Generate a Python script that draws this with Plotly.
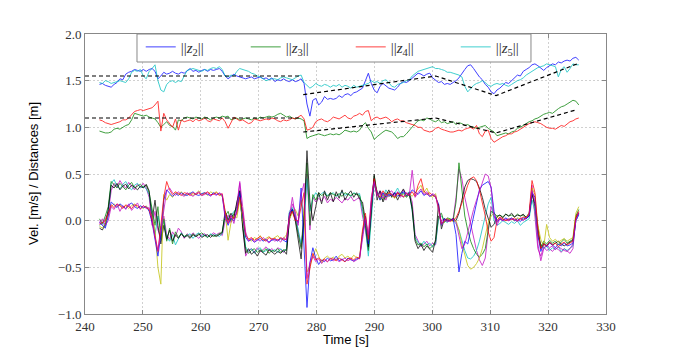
import numpy as np
import plotly.graph_objects as go

# sample times [s] (165 samples)
time_s = np.linspace(242.5, 325.3, 165)

# distances ||z_i|| [m]
dist_z2 = [1.46, 1.47, 1.45, 1.44, 1.43, 1.46, 1.48, 1.52, 1.51, 1.57,
           1.59, 1.60, 1.62, 1.61, 1.60, 1.62, 1.60, 1.62, 1.63, 1.60,
           1.52, 1.55, 1.59, 1.57, 1.58, 1.60, 1.58, 1.57, 1.59, 1.58,
           1.61, 1.63, 1.60, 1.61, 1.59, 1.61, 1.62, 1.60, 1.62, 1.61,
           1.62, 1.63, 1.60, 1.55, 1.52, 1.55, 1.57, 1.55, 1.54, 1.53,
           1.52, 1.53, 1.54, 1.52, 1.53, 1.54, 1.52, 1.53, 1.51, 1.53,
           1.49, 1.51, 1.50, 1.52, 1.50, 1.49, 1.51, 1.49, 1.50, 1.52,
           1.47, 1.25, 1.12, 1.29, 1.31, 1.24, 1.27, 1.33, 1.30, 1.31,
           1.30, 1.31, 1.34, 1.32, 1.35, 1.36, 1.34, 1.37, 1.38, 1.40,
           1.42, 1.50, 1.58, 1.47, 1.40, 1.37, 1.44, 1.47, 1.44, 1.42,
           1.41, 1.40, 1.43, 1.47, 1.49, 1.48, 1.50, 1.53, 1.56, 1.58,
           1.57, 1.55, 1.57, 1.58, 1.53, 1.50, 1.48, 1.49, 1.46, 1.47,
           1.46, 1.48, 1.50, 1.53, 1.58, 1.62, 1.66, 1.67, 1.63, 1.58,
           1.54, 1.51, 1.46, 1.43, 1.38, 1.36, 1.40, 1.42, 1.45, 1.48,
           1.47, 1.50, 1.53, 1.56, 1.55, 1.60, 1.62, 1.64, 1.67, 1.68,
           1.66, 1.63, 1.61, 1.64, 1.66, 1.68, 1.67, 1.70, 1.69, 1.71,
           1.72, 1.71, 1.74, 1.75, 1.72]
dist_z3 = [0.96, 0.95, 0.94, 0.94, 0.95, 0.98, 0.99, 0.98, 1.00, 1.02,
           1.03, 1.08, 1.15, 1.14, 1.13, 1.12, 1.13, 1.11, 1.10, 1.09,
           1.05, 1.00, 1.03, 1.06, 1.02, 1.01, 0.97, 1.08, 1.07, 1.10,
           1.11, 1.10, 1.09, 1.11, 1.10, 1.09, 1.11, 1.10, 1.08, 1.10,
           1.11, 1.10, 1.12, 1.11, 1.12, 1.08, 1.09, 1.10, 1.08, 1.09,
           1.10, 1.09, 1.08, 1.10, 1.09, 1.11, 1.10, 1.11, 1.12, 1.11,
           1.12, 1.14, 1.15, 1.13, 1.11, 1.12, 1.10, 1.09, 1.10, 1.09,
           1.07, 0.88, 0.90, 0.91, 0.92, 0.93, 0.92, 0.91, 0.92, 0.93,
           0.92, 0.93, 0.92, 0.94, 0.97, 0.96, 0.95, 0.96, 0.95, 0.97,
           1.02, 1.05, 0.99, 0.95, 0.87, 0.90, 0.93, 0.95, 0.97, 0.96,
           0.95, 0.92, 0.88, 0.90, 0.90, 0.93, 0.97, 1.00, 1.04, 1.07,
           1.08, 1.07, 1.10, 1.09, 1.07, 1.06, 1.08, 1.05, 1.06, 1.04,
           1.05, 1.06, 1.03, 1.05, 1.04, 1.02, 1.03, 1.01, 1.00, 0.99,
           1.00, 1.01, 1.02, 0.99, 0.97, 0.95, 0.91, 0.92, 0.93, 0.94,
           0.93, 0.95, 0.96, 0.99, 1.00, 1.02, 1.04, 1.06, 1.07, 1.09,
           1.10, 1.12, 1.14, 1.15, 1.16, 1.15, 1.18, 1.20, 1.22, 1.23,
           1.25, 1.27, 1.29, 1.28, 1.24]
dist_z4 = [1.08, 1.07, 1.05, 1.04, 1.03, 1.04, 1.05, 1.06, 1.08, 1.08,
           1.10, 1.13, 1.17, 1.18, 1.19, 1.18, 1.19, 1.20, 1.21, 1.24,
           1.28, 0.96, 1.15, 1.08, 1.04, 1.00, 1.09, 0.97, 1.08, 1.06,
           1.07, 1.08, 1.06, 1.09, 1.07, 1.08, 1.10, 1.07, 1.06, 1.09,
           1.08, 1.07, 1.10, 1.06, 0.99, 1.05, 1.11, 1.09, 1.07, 1.08,
           1.06, 1.04, 1.05, 1.09, 1.08, 1.07, 1.08, 1.09, 1.08, 1.10,
           1.09, 1.07, 1.06, 1.08, 1.07, 1.08, 1.10, 1.09, 1.11, 1.13,
           1.09, 0.97, 0.98, 1.00, 1.06, 1.08, 1.09, 1.07, 1.06, 1.08,
           1.11, 1.10, 1.09, 1.11, 1.13, 1.10, 1.09, 1.12, 1.13, 1.15,
           1.13, 1.17, 1.18, 1.07, 1.10, 1.11, 1.09, 1.10, 1.11, 1.09,
           1.06, 1.08, 1.09, 1.07, 1.07, 1.05, 1.04, 1.03, 1.02, 1.00,
           1.00, 0.97, 0.96, 0.95, 0.96, 0.99, 1.00, 0.98, 0.97, 0.96,
           0.95, 0.95, 0.96, 0.97, 0.96, 0.98, 0.99, 1.00, 0.98, 1.02,
           0.93, 0.90, 0.96, 0.97, 0.88, 0.84, 0.86, 0.88, 0.90, 0.91,
           0.93, 0.93, 0.95, 0.96, 0.98, 1.00, 1.02, 1.04, 1.05, 1.06,
           1.05, 1.04, 1.02, 1.00, 0.99, 0.99, 0.98, 1.00, 1.02, 1.01,
           1.04, 1.06, 1.07, 1.09, 1.10]
dist_z5 = [1.48, 1.47, 1.50, 1.49, 1.47, 1.48, 1.49, 1.50, 1.49, 1.48,
           1.52, 1.59, 1.61, 1.60, 1.62, 1.55, 1.52, 1.60, 1.63, 1.67,
           1.50, 1.40, 1.38, 1.46, 1.49, 1.50, 1.48, 1.50, 1.49, 1.55,
           1.61, 1.62, 1.63, 1.62, 1.61, 1.60, 1.62, 1.61, 1.63, 1.64,
           1.63, 1.65, 1.62, 1.55, 1.54, 1.56, 1.55, 1.60, 1.63, 1.62,
           1.61, 1.60, 1.58, 1.57, 1.55, 1.54, 1.52, 1.50, 1.51, 1.52,
           1.52, 1.51, 1.53, 1.54, 1.53, 1.52, 1.51, 1.53, 1.55, 1.56,
           1.48, 1.45, 1.42, 1.44, 1.47, 1.45, 1.44, 1.46, 1.45, 1.43,
           1.45, 1.44, 1.46, 1.43, 1.45, 1.44, 1.42, 1.45, 1.43, 1.44,
           1.45, 1.46, 1.47, 1.50, 1.48, 1.49, 1.47, 1.50, 1.51, 1.48,
           1.44, 1.43, 1.46, 1.47, 1.48, 1.50, 1.51, 1.55, 1.58, 1.60,
           1.61, 1.62, 1.63, 1.64, 1.65, 1.63, 1.63, 1.62, 1.61, 1.59,
           1.59, 1.58, 1.57, 1.56, 1.54, 1.44, 1.38, 1.42, 1.45, 1.47,
           1.48, 1.50, 1.48, 1.45, 1.44, 1.46, 1.47, 1.46, 1.47, 1.45,
           1.44, 1.46, 1.48, 1.50, 1.51, 1.53, 1.56, 1.58, 1.60, 1.62,
           1.64, 1.65, 1.66, 1.68, 1.67, 1.66, 1.65, 1.54, 1.62, 1.65,
           1.59, 1.63, 1.68, 1.67, 1.67]

# velocities [m/s]
vel_b = [-0.02, -0.05, -0.08, 0.05, 0.20, 0.17, 0.14, 0.18, 0.15, 0.13,
         0.17, 0.19, 0.15, 0.13, 0.16, 0.14, 0.15, 0.10, -0.02, -0.20,
         -0.38, -0.15, 0.22, 0.33, 0.30, 0.26, 0.29, 0.27, 0.30, 0.28,
         0.27, 0.29, 0.31, 0.28, 0.27, 0.29, 0.30, 0.28, 0.27, 0.30,
         0.28, 0.29, 0.27, 0.05, -0.05, 0.03, 0.00, 0.10, 0.30, 0.05,
         -0.18, -0.22, -0.20, -0.23, -0.21, -0.19, -0.22, -0.20, -0.23, -0.21,
         -0.20, -0.22, -0.19, -0.21, -0.23, 0.08, 0.12, 0.02, -0.02, 0.35,
         -0.25, -0.93, -0.45, -0.29, -0.40, -0.47, -0.42, -0.44, -0.40, -0.43,
         -0.42, -0.38, -0.43, -0.41, -0.44, -0.40, -0.42, -0.43, -0.41, -0.40,
         -0.15, 0.05, -0.25, 0.15, 0.40, 0.30, 0.22, 0.30, 0.25, 0.28,
         0.27, 0.30, 0.26, 0.29, 0.31, 0.27, 0.28, 0.33, 0.30, 0.28,
         0.32, 0.27, 0.29, 0.26, 0.28, 0.25, 0.18, -0.05, 0.02, 0.01,
         0.00, 0.02, -0.15, -0.55, -0.35, -0.22, -0.25, -0.10, 0.05, 0.20,
         0.33, 0.38, 0.40, 0.42, 0.36, 0.10, -0.02, 0.02, 0.00, 0.03,
         0.01, 0.03, 0.00, 0.02, -0.01, 0.03, 0.02, 0.05, 0.30, 0.25,
         -0.15, -0.33, -0.25, -0.28, -0.24, -0.26, -0.29, -0.25, -0.27, -0.24,
         -0.27, -0.26, -0.24, 0.00, 0.07]
vel_r = [-0.04, -0.02, 0.00, 0.08, 0.17, 0.14, 0.18, 0.16, 0.13, 0.17,
         0.15, 0.13, 0.17, 0.16, 0.13, 0.16, 0.14, 0.12, 0.00, -0.15,
         -0.33, -0.05, 0.25, 0.42, 0.33, 0.28, 0.31, 0.29, 0.27, 0.30,
         0.29, 0.27, 0.30, 0.28, 0.30, 0.27, 0.29, 0.31, 0.28, 0.28,
         0.30, 0.27, 0.29, 0.10, -0.03, 0.05, 0.02, 0.08, 0.25, 0.10,
         -0.15, -0.20, -0.18, -0.21, -0.19, -0.17, -0.20, -0.22, -0.18, -0.20,
         -0.19, -0.21, -0.18, -0.20, -0.20, 0.05, 0.10, 0.00, 0.00, 0.15,
         0.30, -0.68, -0.50, -0.35, -0.42, -0.40, -0.43, -0.41, -0.44, -0.41,
         -0.41, -0.43, -0.40, -0.42, -0.44, -0.41, -0.40, -0.42, -0.39, -0.41,
         -0.10, 0.08, -0.20, 0.20, 0.45, 0.28, 0.25, 0.32, 0.27, 0.30,
         0.28, 0.25, 0.30, 0.27, 0.26, 0.29, 0.27, 0.31, 0.26, 0.38,
         0.45, 0.32, 0.28, 0.30, 0.27, 0.26, 0.15, -0.03, 0.00, 0.02,
         -0.01, 0.01, 0.03, 0.10, 0.18, 0.28, 0.38, 0.45, 0.47, 0.43,
         0.33, 0.20, 0.05, -0.12, -0.22, -0.18, 0.00, 0.04, 0.02, 0.00,
         0.02, 0.01, 0.03, 0.00, 0.02, 0.04, 0.03, 0.08, 0.43, 0.30,
         -0.10, -0.30, -0.25, -0.27, -0.23, -0.26, -0.24, -0.28, -0.25, -0.23,
         -0.26, -0.24, -0.22, 0.03, 0.10]
vel_y = [-0.06, -0.08, -0.03, 0.05, 0.15, 0.18, 0.15, 0.17, 0.14, 0.16,
         0.13, 0.16, 0.18, 0.14, 0.15, 0.13, 0.16, 0.11, 0.05, -0.10,
         -0.50, -0.68, 0.28, 0.22, 0.28, 0.25, 0.30, 0.28, 0.31, 0.27,
         0.28, 0.30, 0.27, 0.29, 0.32, 0.28, 0.30, 0.27, 0.31, 0.29,
         0.31, 0.28, 0.26, 0.10, -0.21, -0.02, 0.05, 0.03, 0.22, 0.00,
         -0.17, -0.19, -0.22, -0.18, -0.20, -0.16, -0.21, -0.19, -0.17, -0.20,
         -0.18, -0.16, -0.20, -0.19, -0.15, 0.02, 0.08, 0.12, 0.05, 0.22,
         0.05, -0.55, -0.48, -0.40, -0.30, -0.38, -0.45, -0.40, -0.38, -0.41,
         -0.39, -0.42, -0.38, -0.36, -0.40, -0.38, -0.41, -0.37, -0.40, -0.39,
         -0.12, 0.05, -0.22, 0.18, 0.38, 0.32, 0.22, 0.28, 0.24, 0.30,
         0.27, 0.24, 0.28, 0.30, 0.25, 0.27, 0.29, 0.26, 0.30, 0.33,
         0.38, 0.30, 0.35, 0.27, 0.25, 0.29, 0.12, -0.05, 0.00, 0.02,
         0.01, -0.01, 0.00, -0.10, -0.25, -0.38, -0.48, -0.52, -0.50, -0.46,
         -0.40, -0.30, -0.15, -0.02, 0.05, 0.08, 0.04, 0.01, 0.02, 0.00,
         0.01, 0.02, 0.00, 0.03, 0.02, 0.01, 0.04, 0.06, 0.35, 0.28,
         -0.05, -0.20, -0.28, -0.04, -0.18, -0.22, -0.20, -0.23, -0.21, -0.19,
         -0.22, -0.20, -0.18, 0.08, 0.15]
vel_m1 = [-0.03, 0.02, -0.05, 0.00, 0.15, 0.12, 0.18, 0.10, 0.16, 0.12,
          0.18, 0.11, 0.15, 0.19, 0.12, 0.16, 0.13, 0.14, 0.02, -0.18,
          -0.32, -0.10, 0.15, 0.32, 0.35, 0.30, 0.27, 0.31, 0.28, 0.26,
          0.30, 0.28, 0.26, 0.29, 0.31, 0.27, 0.28, 0.30, 0.26, 0.29,
          0.27, 0.30, 0.28, 0.02, -0.02, 0.06, -0.03, 0.12, 0.42, 0.15,
          -0.12, -0.22, -0.19, -0.23, -0.20, -0.22, -0.18, -0.21, -0.24, -0.19,
          -0.22, -0.20, -0.23, -0.18, -0.21, 0.05, 0.25, 0.05, -0.05, 0.28,
          0.40, -0.62, -0.45, -0.38, -0.44, -0.41, -0.46, -0.42, -0.44, -0.40,
          -0.43, -0.41, -0.44, -0.42, -0.40, -0.43, -0.41, -0.44, -0.42, -0.40,
          -0.20, 0.02, -0.15, 0.25, 0.42, 0.26, 0.30, 0.24, 0.29, 0.26,
          0.29, 0.26, 0.31, 0.28, 0.25, 0.30, 0.27, 0.54, 0.25, 0.30,
          0.34, 0.28, 0.31, 0.26, 0.29, 0.27, 0.10, -0.04, 0.01, -0.01,
          0.00, 0.02, -0.02, -0.15, -0.30, -0.25, -0.12, 0.00, 0.12, 0.22,
          0.32, 0.42, 0.50, 0.48, 0.35, 0.05, -0.05, 0.02, 0.00, 0.01,
          0.00, 0.02, 0.01, -0.01, 0.02, 0.00, 0.03, 0.06, 0.32, 0.20,
          -0.25, -0.43, -0.30, -0.26, -0.29, -0.27, -0.31, -0.28, -0.30, -0.32,
          -0.33, -0.30, -0.25, 0.00, 0.08]
vel_g = [0.02, -0.03, 0.05, 0.15, 0.42, 0.38, 0.35, 0.40, 0.36, 0.33,
         0.38, 0.41, 0.35, 0.37, 0.39, 0.36, 0.38, 0.30, 0.10, -0.05,
         0.15, -0.20, 0.02, -0.22, -0.08, -0.25, -0.12, -0.18, -0.14, -0.17,
         -0.15, -0.18, -0.14, -0.17, -0.15, -0.13, -0.16, -0.18, -0.15, -0.17,
         -0.16, -0.14, -0.12, 0.05, 0.10, 0.00, 0.08, 0.15, 0.32, -0.05,
         -0.30, -0.35, -0.32, -0.30, -0.34, -0.31, -0.33, -0.30, -0.35, -0.32,
         -0.33, -0.30, -0.34, -0.31, -0.32, 0.08, 0.12, 0.02, -0.15, -0.30,
         0.10, 0.62, -0.05, 0.28, 0.22, 0.30, 0.27, 0.29, 0.26, 0.30,
         0.28, 0.27, 0.29, 0.26, 0.30, 0.28, 0.27, 0.29, 0.28, 0.27,
         0.15, -0.05, -0.32, 0.10, 0.48, 0.30, 0.25, 0.22, 0.30, 0.26,
         0.28, 0.25, 0.30, 0.27, 0.29, 0.25, 0.28, 0.15, -0.20, -0.26,
         -0.24, -0.28, -0.25, -0.30, -0.27, -0.22, 0.05, 0.08, -0.02, 0.03,
         0.02, 0.00, 0.20, 0.62, 0.30, 0.05, -0.10, -0.22, -0.30, -0.36,
         -0.39, -0.36, -0.30, -0.10, 0.10, 0.08, 0.05, 0.06, 0.04, 0.07,
         0.05, 0.06, 0.04, 0.07, 0.05, 0.06, 0.04, 0.08, 0.30, 0.15,
         -0.12, -0.28, -0.22, -0.25, -0.21, -0.24, -0.22, -0.26, -0.23, -0.20,
         -0.24, -0.22, -0.20, 0.05, 0.12]
vel_c = [-0.05, -0.02, -0.06, 0.10, 0.40, 0.44, 0.37, 0.34, 0.39, 0.42,
         0.36, 0.33, 0.38, 0.40, 0.35, 0.37, 0.34, 0.28, 0.08, -0.15,
         0.05, -0.10, 0.00, -0.18, -0.22, -0.15, -0.26, -0.20, -0.13, -0.17,
         -0.16, -0.14, -0.19, -0.15, -0.13, -0.17, -0.15, -0.18, -0.14, -0.16,
         -0.15, -0.17, -0.14, 0.08, 0.02, 0.05, 0.10, 0.12, 0.25, 0.00,
         -0.28, -0.33, -0.30, -0.35, -0.31, -0.29, -0.34, -0.32, -0.30, -0.33,
         -0.31, -0.34, -0.30, -0.33, -0.30, 0.10, 0.14, 0.05, -0.10, -0.25,
         -0.05, 0.45, 0.10, 0.24, 0.30, 0.26, 0.29, 0.31, 0.27, 0.28,
         0.30, 0.26, 0.28, 0.31, 0.27, 0.29, 0.26, 0.30, 0.28, 0.29,
         0.10, -0.08, -0.38, 0.05, 0.40, 0.28, 0.30, 0.26, 0.33, 0.28,
         0.26, 0.29, 0.35, 0.28, 0.30, 0.27, 0.31, 0.10, -0.18, -0.23,
         -0.27, -0.22, -0.26, -0.24, -0.28, -0.25, 0.02, 0.05, 0.00, -0.02,
         0.01, 0.00, -0.03, -0.10, -0.22, -0.32, -0.40, -0.41, -0.38, -0.32,
         -0.22, -0.10, 0.05, 0.18, 0.25, 0.00, -0.05, -0.03, 0.00, -0.02,
         -0.04, -0.01, -0.03, 0.00, -0.05, -0.02, 0.00, 0.02, 0.22, 0.10,
         -0.18, -0.25, -0.30, -0.27, -0.32, -0.29, -0.31, -0.28, -0.33, -0.30,
         -0.32, -0.29, -0.27, 0.00, 0.06]
vel_k = [-0.08, -0.10, -0.04, 0.12, 0.38, 0.35, 0.40, 0.33, 0.37, 0.39,
         0.34, 0.38, 0.36, 0.33, 0.37, 0.35, 0.39, 0.32, 0.00, 0.22,
         -0.05, -0.25, -0.05, -0.20, -0.10, -0.22, -0.15, -0.19, -0.14, -0.18,
         -0.16, -0.19, -0.15, -0.17, -0.14, -0.18, -0.16, -0.15, -0.18, -0.15,
         -0.17, -0.15, -0.13, 0.10, 0.00, 0.08, 0.03, 0.20, 0.32, -0.08,
         -0.35, -0.30, -0.36, -0.33, -0.38, -0.32, -0.35, -0.37, -0.31, -0.34,
         -0.36, -0.33, -0.35, -0.32, -0.36, 0.02, 0.12, 0.00, -0.20, -0.41,
         0.05, 0.75, 0.20, 0.00, 0.15, 0.30, 0.18, 0.32, 0.22, 0.30,
         0.20, 0.31, 0.24, 0.33, 0.22, 0.28, 0.32, 0.25, 0.30, 0.23,
         0.20, 0.00, -0.28, 0.15, 0.50, 0.22, 0.32, 0.20, 0.27, 0.33,
         0.25, 0.30, 0.22, 0.29, 0.34, 0.26, 0.30, 0.12, -0.22, -0.30,
         -0.25, -0.32, -0.27, -0.30, -0.34, -0.20, 0.18, -0.09, 0.02, 0.00,
         0.01, 0.02, 0.00, 0.08, 0.22, 0.36, 0.43, 0.45, 0.44, 0.42,
         0.35, 0.25, 0.12, 0.02, -0.07, -0.04, 0.04, 0.06, 0.03, 0.07,
         0.05, 0.08, 0.04, 0.06, 0.05, 0.07, 0.03, 0.05, 0.28, 0.18,
         -0.08, -0.30, -0.24, -0.27, -0.23, -0.26, -0.24, -0.22, -0.25, -0.27,
         -0.25, -0.23, -0.21, 0.03, 0.08]
vel_m2 = [0.00, -0.04, 0.02, 0.08, 0.32, 0.40, 0.36, 0.43, 0.38, 0.35,
          0.41, 0.37, 0.33, 0.39, 0.36, 0.40, 0.35, 0.25, -0.05, 0.10,
          -0.10, -0.18, 0.05, -0.15, -0.20, -0.12, -0.17, -0.08, -0.12, -0.19,
          -0.14, -0.17, -0.13, -0.16, -0.19, -0.15, -0.14, -0.17, -0.16, -0.13,
          -0.15, -0.13, -0.16, 0.00, 0.06, -0.02, 0.04, 0.18, 0.40, -0.02,
          -0.38, -0.32, -0.30, -0.34, -0.29, -0.33, -0.31, -0.28, -0.32, -0.30,
          -0.33, -0.29, -0.31, -0.34, -0.30, 0.00, 0.18, 0.10, -0.12, -0.28,
          0.00, 0.50, -0.10, 0.25, 0.20, 0.24, 0.21, 0.26, 0.19, 0.23,
          0.21, 0.25, 0.22, 0.19, 0.24, 0.22, 0.26, 0.21, 0.23, 0.25,
          0.05, -0.10, -0.30, 0.20, 0.45, 0.27, 0.32, 0.28, 0.22, 0.30,
          0.32, 0.27, 0.30, 0.25, 0.33, 0.29, 0.30, 0.20, -0.15, -0.22,
          -0.28, -0.25, -0.22, -0.27, -0.24, -0.26, 0.05, 0.00, 0.02, -0.01,
          0.00, 0.02, 0.25, 0.55, 0.45, 0.25, 0.10, -0.05, -0.20, -0.32,
          -0.42, -0.48, -0.40, -0.10, 0.15, 0.05, 0.00, 0.03, 0.01, 0.02,
          0.00, 0.02, 0.01, 0.00, 0.03, 0.01, 0.02, 0.05, 0.38, 0.05,
          -0.30, -0.38, -0.28, -0.32, -0.30, -0.33, -0.29, -0.31, -0.34, -0.30,
          -0.33, -0.35, -0.30, 0.05, 0.09]

# reference distances (dashed)
ref_t = [240, 277.2, None, 277.7, 300.6, 311.0, 325.0]
ref_far = [1.55, 1.55, None, 1.35, 1.55, 1.34, 1.68]
ref_near = [1.10, 1.10, None, 0.95, 1.10, 0.94, 1.19]

fig = go.Figure()

vel_traces = [(vel_m2, '#bf00bf'), (vel_c, '#00bfbf'), (vel_g, '#008000'),
              (vel_k, '#000000'), (vel_y, '#bfbf00'), (vel_b, '#0000ff'),
              (vel_r, '#ff0000'), (vel_m1, '#bf00bf')]
for vals, col in vel_traces:
    fig.add_trace(go.Scatter(x=time_s, y=vals, mode='lines', showlegend=False,
                             line=dict(color=col, width=1), opacity=0.75, hoverinfo='skip'))

dist_traces = [(dist_z2, '#0000ff', 2), (dist_z3, '#008000', 3),
               (dist_z4, '#ff0000', 4), (dist_z5, '#00bfbf', 5)]
for vals, col, k in dist_traces:
    fig.add_trace(go.Scatter(x=time_s, y=vals, mode='lines',
                             name=f'||<i>z</i><sub>{k}</sub>||',
                             line=dict(color=col, width=1), opacity=0.75))

for ref in (ref_far, ref_near):
    fig.add_trace(go.Scatter(x=ref_t, y=ref, mode='lines', showlegend=False,
                             line=dict(color='black', width=1.2, dash='4px,3px')))

axis_style = dict(showline=True, linecolor='#888888', linewidth=1, mirror='ticks',
                  ticks='inside', ticklen=4, tickcolor='#888888', zeroline=False,
                  showgrid=True, gridcolor='#d0d0d0', gridwidth=1, griddash='2px,2px',
                  tickfont=dict(family='Liberation Serif', size=13, color='#333333'))

fig.update_xaxes(range=[240, 330], dtick=10, **axis_style)
fig.update_yaxes(range=[-1.0, 2.0], dtick=0.5, tickformat='.1f', **axis_style)

fig.update_layout(
    width=674, height=349,
    margin=dict(l=85, r=68, t=34, b=35),
    plot_bgcolor='white', paper_bgcolor='white',
    # legend frame drawn as a shape so its width matches
    shapes=[dict(type='rect', xref='paper', yref='paper', x0=0.0998, x1=0.856,
                 y0=0.9, y1=1.0, layer='above', fillcolor='white',
                 line=dict(color='#888888', width=1))],
    legend=dict(orientation='h', x=0.107, xanchor='left', y=1.012, yanchor='top',
                bgcolor='rgba(0,0,0,0)', borderwidth=0,
                entrywidth=60, entrywidthmode='pixels',
                font=dict(family='Liberation Serif', size=15, color='#333333')),
    annotations=[
        dict(text='Time [s]', xref='paper', yref='paper', x=0.5, y=0, yanchor='top',
             yshift=-16, showarrow=False,
             font=dict(family='Liberation Sans', size=13, color='black')),
        dict(text='Vel. [m/s] / Distances [m]', xref='paper', yref='paper', x=0, y=0.5,
             xanchor='center', xshift=-52, textangle=-90, showarrow=False,
             font=dict(family='Liberation Sans', size=13, color='black')),
    ],
)

fig.write_html("out.html", config={'displayModeBar': False},
               post_script="document.body.style.margin = '0';")
